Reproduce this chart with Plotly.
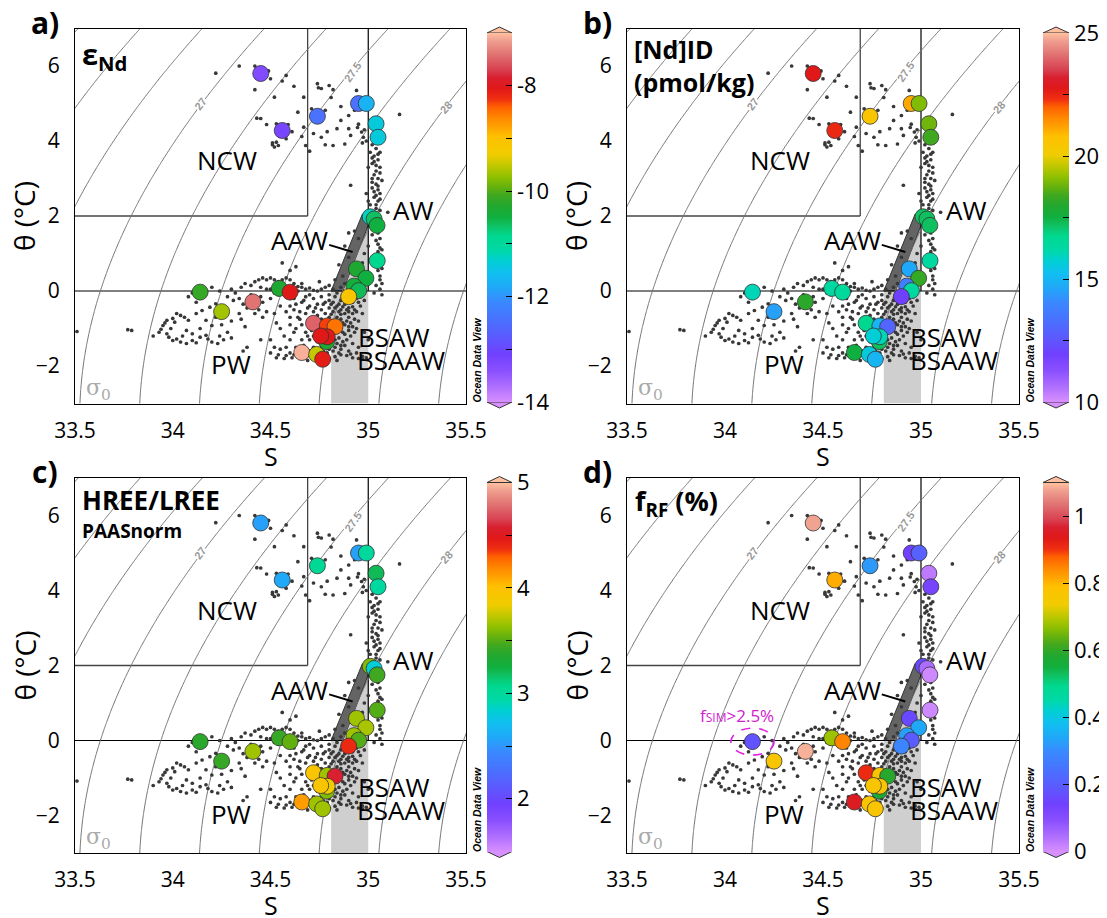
import numpy as np
import plotly.graph_objects as go

# ---------------- data ----------------
# Station samples: salinity S and potential temperature theta (deg C)
stn_S = [34.787, 34.45, 34.56, 34.74, 34.95, 34.99, 35.04, 35.05, 35.01, 35.03, 35.045,
         35.046, 34.94, 34.988, 34.927, 34.951, 34.90, 34.14, 34.25, 34.41, 34.545,
         34.60, 34.72, 34.79, 34.83, 34.79, 34.757, 34.66, 34.736, 34.767]
stn_T = [-1.35, 5.80, 4.28, 4.66, 5.00, 5.00, 4.46, 4.10, 1.98, 1.92, 1.75,
         0.81, 0.59, 0.34, 0.13, 0.01, -0.15, -0.03, -0.55, -0.29, 0.07,
         -0.03, -0.86, -0.93, -0.95, -1.22, -1.20, -1.64, -1.69, -1.82]

# Panel values (same station order)
eps_Nd = [-10.3, -13.3, -13.2, -12.45, -12.45, -11.7, -11.4, -11.4, -11.25, -10.65, -10.5,
          -10.85, -10.3, -10.5, -10.45, -10.6, -9.1, -10.15, -9.65, -7.4, -10.3,
          -8.05, -7.5, -8.3, -8.5, -8.05, -8.05, -7.07, -9.5, -8.1]
nd_conc = [17.2, 22.75, 22.45, 20.5, 21.1, 19.0, 18.85, 18.4, 17.2, 17.2, 17.2,
           16.3, 14.65, 18.25, 13.75, 16.3, 11.95, 16.0, 14.5, 18.1, 16.3,
           16.45, 16.75, 15.0, 13.0, 16.0, 15.7, 17.5, 15.55, 15.0]
hree_lree = [3.6, 2.55, 2.59, 3.04, 2.55, 3.0, 3.2, 2.97, 3.6, 2.83, 3.46,
             3.5, 3.67, 3.69, 3.67, 3.5, 4.4, 3.39, 3.43, 3.67, 3.43,
             3.53, 3.95, 3.67, 4.58, 3.85, 3.95, 4.13, 3.67, 3.67]
f_rf = [0.57, 1.08, 0.81, 0.32, 0.14, 0.21, 0.03, 0.13, 0.16, 0.05, 0.01,
        0.01, 0.16, 0.34, 0.33, 0.2, 0.29, 0.18, 0.77, 1.09, 0.68,
        0.85, 0.91, 0.77, 0.59, 0.77, 0.77, 0.95, 0.77, 0.77]
fsim_station = 17  # index of station with f_SIM > 2.5 %

# Background CTD profile points (S, theta)
ctd_ST = [
    (34.22, 5.81), (34.34, 6.0), (34.42, 6.0), (34.49, 5.87), (34.50, 5.66), (34.42, 5.37),
    (34.58, 5.75), (34.56, 5.6), (34.62, 5.46), (34.67, 5.17), (34.52, 5.17), (34.43, 4.61),
    (34.45, 4.6), (34.48, 4.44), (34.53, 4.46), (34.59, 4.44), (34.64, 4.77), (34.67, 4.37),
    (34.66, 4.12), (34.68, 3.88), (34.70, 3.73), (34.51, 3.9), (34.52, 3.84), (34.53, 3.97),
    (34.54, 3.88), (34.51, 3.95), (34.58, 4.06), (34.57, 4.3), (34.61, 4.25), (34.74, 5.53),
    (34.745, 5.42), (34.76, 5.4), (34.80, 5.48), (34.82, 5.37), (34.81, 5.16), (34.71, 4.86),
    (34.78, 4.82), (34.86, 4.92), (34.90, 4.68), (34.84, 4.33), (34.90, 4.33), (34.945, 4.36),
    (34.966, 4.24), (34.975, 4.1), (34.72, 4.2), (34.76, 4.1), (34.78, 3.9), (34.82, 3.88),
    (34.88, 3.92), (34.91, 4.15), (34.93, 4.82), (34.94, 5.35), (34.94, 5.08), (34.86, 4.55),
    (35.16, 4.71), (34.79, 4.25), (34.95, 4.45), (34.98, 4.3), (34.97, 3.95), (34.99, 4.0),
    (35.02, 3.9), (35.04, 3.8), (35.03, 3.6), (35.05, 3.5), (35.02, 3.4), (35.06, 3.3),
    (35.04, 3.2), (35.03, 3.1), (35.05, 3.0), (35.07, 2.95), (35.04, 2.85), (35.02, 2.75),
    (35.05, 2.7), (35.06, 2.6), (35.03, 2.5), (35.05, 2.4), (35.01, 2.3), (35.04, 2.2),
    (35.06, 2.15), (35.00, 2.4), (35.00, 3.3), (35.01, 3.7), (34.99, 2.6), (35.05, 1.55),
    (35.06, 1.4), (35.05, 1.25), (35.07, 1.1), (35.06, 0.95), (35.07, 0.6), (35.06, 0.4),
    (35.07, 0.2), (35.06, 0.05), (35.07, -0.1), (35.03, -0.05), (35.1, 2.1), (34.91, 2.82),
    (35.02, 1.5), (35.0, 1.2), (34.98, 1.0), (34.97, 0.75), (34.9, 1.55), (34.93, 1.6),
    (34.88, 1.2), (34.9, 0.9), (34.85, 0.7), (34.87, 0.4), (34.95, 1.4), (35.03, 3.45),
    (35.02, 3.0), (35.04, 2.55), (35.05, 3.65), (35.03, 2.05),
    (35.04, 3.95), (35.06, 3.7), (35.02, 3.55), (35.04, 3.35), (35.06, 3.15), (35.02, 2.9),
    (35.05, 2.8), (35.03, 2.65), (35.06, 2.45), (35.04, 2.3), (35.06, 1.65), (35.04, 1.35),
    (35.06, 1.15), (35.05, 1.05), (35.04, 0.7), (35.05, 0.55), (35.06, 0.3), (35.04, 0.15),
    (34.3, 0.05), (34.32, -0.05), (34.35, 0.1), (34.37, 0.2), (34.4, 0.15), (34.42, 0.25),
    (34.44, 0.3), (34.46, 0.35), (34.48, 0.3), (34.5, 0.35), (34.52, 0.3), (34.54, 0.25),
    (34.56, 0.3), (34.58, 0.35), (34.6, 0.3), (34.62, 0.2), (34.64, 0.12), (34.66, 0.1),
    (34.68, 0.05), (34.7, 0.08), (34.72, 0.02), (34.74, 0.0), (34.76, 0.05), (34.78, 0.1),
    (34.8, 0.15), (34.82, 0.05), (34.84, -0.05), (34.86, 0.1), (34.88, 0.2), (34.83, 0.3),
    (34.75, 0.25), (34.66, 0.2), (34.64, 0.0), (34.7, -0.1), (34.68, -0.15), (34.72, -0.2),
    (34.76, -0.15), (34.8, -0.1), (34.78, -0.3), (34.74, -0.35), (34.7, -0.4), (34.66, -0.3),
    (34.62, -0.2), (34.58, -0.15), (34.54, -0.1), (34.5, -0.2), (34.46, -0.3), (34.44, -0.5),
    (34.42, -0.6), (34.46, -0.7), (34.48, -0.55), (34.38, -0.45), (34.36, -0.35), (34.34, -0.2),
    (34.31, -0.25), (34.28, -0.15), (34.24, 0.0), (34.2, 0.1), (34.16, 0.05), (34.1, -0.05),
    (34.08, -0.15), (34.56, 0.75), (34.6, 0.55), (34.63, 0.65),
    (34.45, 0.1), (34.5, 0.05), (34.55, 0.0), (34.6, 0.1), (34.52, -0.05), (34.48, 0.05),
    (34.4, -0.1), (34.45, -0.15),
    (33.51, -1.08), (33.77, -1.03), (33.79, -1.05), (33.97, -0.78), (34.0, -0.73), (34.01, -0.83),
    (33.99, -1.0), (33.97, -1.14), (33.98, -1.23), (34.0, -1.32), (34.04, -1.36), (34.07, -1.4),
    (34.1, -1.32), (34.14, -1.23), (34.17, -1.18), (34.2, -1.36), (34.23, -1.4), (34.04, -0.65),
    (34.06, -0.7), (34.08, -0.78), (34.12, -0.6), (34.15, -0.52), (34.19, -0.43), (34.22, -0.34),
    (34.17, -0.78), (34.2, -0.92), (34.14, -1.0), (34.07, -1.05), (34.1, -1.14), (34.05, -1.2),
    (33.93, -1.1), (33.9, -1.2), (33.95, -0.92), (34.12, -0.3), (34.22, -0.7), (34.25, -0.9),
    (34.28, -1.1), (34.3, -0.8), (34.34, -0.6), (34.35, -0.75), (34.37, -0.95), (34.3, -1.25),
    (34.36, -1.6), (34.38, -1.5), (34.45, -1.3),
    (34.02, -0.6), (33.96, -0.85), (33.94, -1.02), (34.02, -1.28), (34.12, -1.38), (34.18, -1.28),
    (34.24, -1.2), (34.26, -1.3),
    (34.62, -0.5), (34.64, -0.7), (34.6, -0.9), (34.62, -1.1), (34.6, -1.3), (34.58, -1.5),
    (34.6, -1.65), (34.62, -1.7), (34.64, -1.75), (34.66, -1.78), (34.68, -1.72), (34.7, -1.6),
    (34.72, -1.5), (34.7, -1.3), (34.68, -1.1), (34.66, -0.9), (34.68, -0.6), (34.7, -0.75),
    (34.72, -0.55), (34.74, -0.65), (34.76, -0.5), (34.78, -0.6), (34.8, -0.45), (34.82, -0.55),
    (34.84, -0.4), (34.86, -0.5), (34.88, -0.35), (34.9, -0.45), (34.92, -0.3), (34.94, -0.2),
    (34.86, -0.25), (34.82, -0.3), (34.8, -0.7), (34.82, -0.8), (34.84, -0.7), (34.86, -0.75),
    (34.88, -0.6), (34.9, -0.7), (34.92, -0.6), (34.93, -0.5), (34.91, -0.85), (34.88, -0.9),
    (34.86, -1.0), (34.84, -1.1), (34.82, -1.2), (34.85, -1.25), (34.88, -1.15), (34.9, -1.05),
    (34.92, -0.95), (34.87, -1.35), (34.84, -1.4), (34.8, -1.45), (34.78, -1.4), (34.76, -1.5),
    (34.74, -1.35), (34.72, -1.2), (34.74, -1.05), (34.76, -0.75), (34.78, -0.8), (34.83, -0.9),
    (34.85, -0.55), (34.89, -0.5), (34.91, -0.25), (34.87, -0.15), (34.83, -0.15), (34.8, -0.25),
    (34.77, -0.35), (34.73, -0.45), (34.69, -0.45), (34.65, -0.55), (34.63, -0.35), (34.67, -0.25),
    (34.75, -1.75), (34.78, -1.75), (34.8, -1.8), (34.83, -1.75), (34.86, -1.7), (34.89, -1.72),
    (34.92, -1.78), (34.95, -1.8), (34.97, -1.74), (34.94, -1.65), (34.9, -1.6), (34.86, -1.55),
    (34.82, -1.6), (34.84, -1.85), (34.58, -1.72), (34.55, -1.55), (34.57, -1.2), (34.55, -1.0),
    (34.53, -0.85), (34.52, -0.6), (34.55, -0.4), (34.5, -1.3), (34.52, -1.5), (34.5, -1.65),
    (34.54, -1.7), (34.96, -0.4), (34.97, -0.6), (34.95, -0.8), (34.94, -1.0), (34.98, -1.1),
    (35.0, -1.3), (34.92, -1.4), (34.95, -1.5), (34.88, -1.45), (34.79, -1.05), (34.81, -0.95),
    (34.78, -1.25), (34.75, -0.95), (34.7, -0.9), (34.66, -1.3), (34.63, -1.5), (34.69, -1.85),
    (34.72, -1.8), (34.85, -0.35), (34.89, -0.8), (34.87, -1.1), (34.83, -1.3), (34.91, -1.2),
    (34.81, -0.62), (34.77, -0.95), (34.93, -0.75), (34.85, -0.9), (34.89, -0.2),
    (34.81, -0.35), (34.83, -0.45), (34.87, -0.42), (34.9, -0.55), (34.92, -0.42), (34.94, -0.55),
    (34.86, -0.62), (34.84, -0.82), (34.87, -0.85), (34.9, -0.95), (34.93, -1.1), (34.89, -1.3),
    (34.86, -1.45), (34.83, -1.5), (34.8, -1.55), (34.77, -1.6), (34.79, -1.65), (34.85, -1.65),
    (34.91, -1.68), (34.97, -1.82), (34.99, -1.78), (34.76, -1.1), (34.74, -0.8), (34.72, -0.95),
    (34.71, -1.05), (34.69, -1.2), (34.67, -1.45), (34.65, -1.65), (34.61, -1.78), (34.57, -1.8),
    (34.53, -1.78), (34.63, -1.0), (34.65, -0.75), (34.6, -0.7), (34.58, -0.55), (34.6, -0.4),
    (34.95, -0.3), (34.96, -0.15), (34.93, -0.05), (34.98, -0.25),
]
ctd_S = [p[0] for p in ctd_ST]
ctd_T = [p[1] for p in ctd_ST]

x_ticks = [33.5, 34, 34.5, 35, 35.5]
x_ticktext = ["33.5", "34", "34.5", "35", "35.5"]
y_ticks = [-2, 0, 2, 4, 6]
sigma_labels = [("27", 34.14, 5.0, -53), ("27.5", 34.92, 5.84, -55), ("28", 35.40, 4.9, -48)]

# Water-mass polygons / boxes (S, theta)
aaw_S = [34.81, 34.87, 35.0, 34.97]
aaw_T = [0.0, 0.0, 1.75, 2.05]
bsaw_S = [34.81, 34.81, 34.87, 35.0, 35.0]
bsaw_T = [-3.0, 0.0, 0.0, 1.75, -3.0]
ncw_S_edge = 34.69
ncw_T_edge = 2.0

cb_a = dict(vals=[-14, -13, -12, -11, -10, -9, -8, -7],
            text=["-14", " ", "-12", " ", "-10", " ", "-8", " "], rng=(-14, -7))
cb_b = dict(vals=[10, 12.5, 15, 17.5, 20, 22.5, 25],
            text=["10", " ", "15", " ", "20", " ", "25"], rng=(10, 25))
cb_c = dict(vals=[1.5, 2, 2.5, 3, 3.5, 4, 4.5, 5],
            text=[" ", "2", " ", "3", " ", "4", " ", "5"], rng=(1.5, 5))
cb_d = dict(vals=[0, 0.2, 0.4, 0.6, 0.8, 1.0],
            text=["0", "0.2", "0.4", "0.6", "0.8", "1"], rng=(0, 1.1))

odv_scale = [
    [0.0, "#d890ff"], [0.04, "#b070ff"], [0.085, "#8a50ff"], [0.13, "#7040ff"],
    [0.18, "#5a5cff"], [0.22, "#4a70ff"], [0.27, "#3a88ff"], [0.31, "#20a8f8"],
    [0.35, "#10c0f0"], [0.385, "#00d0d0"], [0.41, "#00d8a8"], [0.45, "#00d890"],
    [0.48, "#10c060"], [0.5, "#10b040"], [0.53, "#20a830"], [0.56, "#40a820"],
    [0.58, "#60b010"], [0.61, "#90c000"], [0.64, "#c0c800"], [0.67, "#f0cc00"],
    [0.72, "#ffc000"], [0.74, "#ffa800"], [0.77, "#ff8800"], [0.8, "#ff6000"],
    [0.82, "#f03010"], [0.85, "#e01818"], [0.88, "#d82030"], [0.9, "#d84050"],
    [0.94, "#e07070"], [0.98, "#f0a090"], [1.0, "#ffc0a0"],
]

# ---------------- layout geometry (page pixels) ----------------
PAGE_W, PAGE_H = 1107, 918
OFF = 8                       # default page margin around the plot div
W, H = PAGE_W - OFF, PAGE_H - OFF
panels = [
    dict(x0=75, x1=466, y0=28.5, y1=403.5, vals=eps_Nd, cb=cb_a, cbx=487, cbw=25, letter="a)"),
    dict(x0=627, x1=1019, y0=28.5, y1=403.5, vals=nd_conc, cb=cb_b, cbx=1043, cbw=26, letter="b)"),
    dict(x0=75, x1=466, y0=478, y1=853, vals=hree_lree, cb=cb_c, cbx=487, cbw=25, letter="c)"),
    dict(x0=627, x1=1019, y0=478, y1=853, vals=f_rf, cb=cb_d, cbx=1043, cbw=26, letter="d)"),
]

def px(x):
    return (x - OFF) / W

def py(y):
    return 1 - (y - OFF) / H

# density field sigma0 (UNESCO EOS-80 at p = 0)
def sigma0(S, T):
    rw = (999.842594 + 6.793952e-2 * T - 9.095290e-3 * T**2 + 1.001685e-4 * T**3
          - 1.120083e-6 * T**4 + 6.536332e-9 * T**5)
    A = 8.24493e-1 - 4.0899e-3 * T + 7.6438e-5 * T**2 - 8.2467e-7 * T**3 + 5.3875e-9 * T**4
    B = -5.72466e-3 + 1.0227e-4 * T - 1.6546e-6 * T**2
    C = 4.8314e-4
    return rw + A * S + B * S**1.5 + C * S**2 - 1000.0

gS = np.linspace(33.4, 35.6, 221)
gT = np.linspace(-3.2, 7.2, 209)
SS, TT = np.meshgrid(gS, gT)
sig = sigma0(SS, TT)

fig = go.Figure()
shapes = []
annotations = []
FONT = "Open Sans"

def paper_text(text, x, y, size, angle=0, family=FONT, color="black"):
    return dict(text=text, x=px(x), y=py(y), xref="paper", yref="paper", showarrow=False,
                xanchor="center", yanchor="middle", textangle=angle,
                font=dict(size=size, color=color, family=family))

for i, p in enumerate(panels):
    k = "" if i == 0 else str(i + 1)
    xa, ya = "x" + k, "y" + k
    # density contours
    fig.add_trace(go.Contour(
        x=gS, y=gT, z=sig, xaxis=xa, yaxis=ya,
        contours=dict(start=26.25, end=28.75, size=0.25, coloring="lines", showlabels=False),
        colorscale=[[0, "#737373"], [1, "#737373"]], showscale=False,
        line=dict(width=1.0), hoverinfo="skip"))
    # CTD points
    fig.add_trace(go.Scatter(
        x=ctd_S, y=ctd_T, xaxis=xa, yaxis=ya, mode="markers",
        marker=dict(size=3.7, color="#383838"), hoverinfo="skip", showlegend=False))
    # stations
    cb = p["cb"]
    cb_top = p["y0"] + 4.5
    cb_bot = p["y1"] - 1.5
    fig.add_trace(go.Scatter(
        x=stn_S, y=stn_T, xaxis=xa, yaxis=ya, mode="markers", showlegend=False,
        marker=dict(size=16, color=p["vals"], colorscale=odv_scale,
                    cmin=cb["rng"][0], cmax=cb["rng"][1],
                    line=dict(width=0.8, color="#333333"),
                    colorbar=dict(x=px(p["cbx"]), xanchor="left", y=py(cb_top), yanchor="top",
                                  len=cb_bot - cb_top, lenmode="pixels",
                                  thickness=p["cbw"], thicknessmode="pixels",
                                  tickvals=cb["vals"], ticktext=cb["text"],
                                  ticks="inside", ticklen=6, tickcolor="black", tickwidth=1.2,
                                  outlinewidth=0, xpad=0, ypad=0,
                                  tickfont=dict(size=22, color="black", family=FONT))),
        hoverinfo="skip"))

    # shapes in data coordinates
    path_bsaw = "M " + " L ".join(f"{s},{t}" for s, t in zip(bsaw_S, bsaw_T)) + " Z"
    path_aaw = "M " + " L ".join(f"{s},{t}" for s, t in zip(aaw_S, aaw_T)) + " Z"
    shapes.append(dict(type="path", path=path_bsaw, xref=xa, yref=ya, layer="below",
                       fillcolor="#cfcfcf", line=dict(width=0)))
    shapes.append(dict(type="path", path=path_aaw, xref=xa, yref=ya, layer="below",
                       fillcolor="#646464", line=dict(width=1, color="#333333")))
    shapes.append(dict(type="line", xref=xa, yref=ya, x0=33.5, x1=35.5, y0=0, y1=0,
                       layer="below", line=dict(color="black", width=1.2)))
    shapes.append(dict(type="line", xref=xa, yref=ya, x0=35.0, x1=35.0, y0=0, y1=7,
                       layer="below", line=dict(color="black", width=1.2)))
    shapes.append(dict(type="line", xref=xa, yref=ya, x0=33.5, x1=ncw_S_edge, y0=ncw_T_edge,
                       y1=ncw_T_edge, layer="below", line=dict(color="#444444", width=1.3)))
    shapes.append(dict(type="line", xref=xa, yref=ya, x0=ncw_S_edge, x1=ncw_S_edge,
                       y0=ncw_T_edge, y1=7, layer="below", line=dict(color="#444444", width=1.3)))
    # AAW leader line
    shapes.append(dict(type="line", xref=xa, yref=ya, x0=34.80, x1=34.92, y0=1.23, y1=1.04,
                       line=dict(color="black", width=2)))
    # colorbar end arrows
    xl, xr = px(p["cbx"]), px(p["cbx"] + p["cbw"])
    xm = px(p["cbx"] + p["cbw"] / 2)
    shapes.append(dict(type="path", xref="paper", yref="paper",
                       path=f"M {xl},{py(cb_top)} L {xm},{py(cb_top - 6)} L {xr},{py(cb_top)} Z",
                       fillcolor="#ffc0a0", line=dict(color="#333333", width=1)))
    shapes.append(dict(type="path", xref="paper", yref="paper",
                       path=f"M {xl},{py(cb_bot)} L {xm},{py(cb_bot + 6)} L {xr},{py(cb_bot)} Z",
                       fillcolor="#d890ff", line=dict(color="#333333", width=1)))

    # water mass labels
    for txt, s, t in [("NCW", 34.28, 3.49), ("AW", 35.23, 2.16), ("AAW", 34.65, 1.36),
                      ("PW", 34.30, -1.95), ("BSAW", 35.13, -1.23), ("BSAAW", 35.17, -1.84)]:
        annotations.append(dict(text=txt, x=s, y=t, xref=xa, yref=ya, showarrow=False,
                                xanchor="center", yanchor="middle",
                                font=dict(size=26, color="black", family=FONT)))
    for txt, s, t, ang in sigma_labels:
        annotations.append(dict(text=f"<b>{txt}</b>", x=s, y=t, xref=xa, yref=ya, showarrow=False,
                                textangle=ang, bgcolor="white", borderpad=0,
                                xanchor="center", yanchor="middle",
                                font=dict(size=11, color="#9a9a9a", family="Liberation Sans")))
    annotations.append(dict(text="σ<sub>0</sub>", x=33.62, y=-2.62, xref=xa, yref=ya,
                            showarrow=False, xanchor="center", yanchor="middle",
                            font=dict(size=22, color="#aaaaaa", family="DejaVu Serif")))
    # panel letter, axis titles, credit
    annotations.append(paper_text(f"<b>{p['letter']}</b>", p["x0"] - 30, p["y0"] - 6, 30))
    annotations.append(paper_text("θ (°C)", p["x0"] - 51, (p["y0"] + p["y1"]) / 2, 28, angle=-90))
    annotations.append(paper_text("S", (p["x0"] + p["x1"]) / 2, p["y1"] + 52, 25))
    annotations.append(paper_text("<b><i>Ocean Data View</i></b>", p["x1"] + 11, p["y1"] - 43,
                                  10.5, angle=-90, family="Liberation Sans"))

    fig.layout["xaxis" + k] = dict(
        domain=[px(p["x0"]), px(p["x1"])], range=[33.5, 35.5], anchor=ya,
        tickvals=x_ticks, ticktext=x_ticktext, showgrid=False, zeroline=False,
        showline=True, linecolor="black", linewidth=1.2, mirror=True, ticks="",
        automargin=False,
        ticklabelstandoff=8, tickfont=dict(size=21, color="black", family=FONT))
    fig.layout["yaxis" + k] = dict(
        domain=[py(p["y1"]), py(p["y0"])], range=[-3, 7], anchor=xa,
        tickvals=y_ticks, showgrid=False, zeroline=False,
        showline=True, linecolor="black", linewidth=1.2, mirror=True, ticks="",
        automargin=False,
        ticklabelstandoff=10, tickfont=dict(size=21, color="black", family=FONT))

# panel-specific titles
annotations += [
    dict(text="<b>ε<sub>Nd</sub></b>", x=0.012, y=0.99, xref="x domain", yref="y domain",
         xanchor="left", yanchor="top", showarrow=False,
         font=dict(size=29, color="black", family=FONT)),
    dict(text="<b>[Nd]ID<br>(pmol/kg)</b>", x=0.012, y=0.995, xref="x2 domain", yref="y2 domain",
         xanchor="left", yanchor="top", align="left", showarrow=False,
         font=dict(size=25, color="black", family=FONT)),
    dict(text="<b>HREE/LREE</b>", x=0.012, y=0.995, xref="x3 domain", yref="y3 domain",
         xanchor="left", yanchor="top", showarrow=False,
         font=dict(size=26, color="black", family=FONT)),
    dict(text="<b>PAASnorm</b>", x=0.012, y=0.90, xref="x3 domain", yref="y3 domain",
         xanchor="left", yanchor="top", showarrow=False,
         font=dict(size=19, color="black", family=FONT)),
    dict(text="<b>f<sub>RF</sub> (%)</b>", x=0.015, y=0.995, xref="x4 domain", yref="y4 domain",
         xanchor="left", yanchor="top", showarrow=False,
         font=dict(size=27, color="black", family=FONT)),
    dict(text="f<span style='font-size:12px'>SIM</span>>2.5%", x=34.06, y=0.68,
         xref="x4", yref="y4", showarrow=False, xanchor="center", yanchor="middle",
         font=dict(size=17, color="#d020d0", family=FONT)),
]
fs, ft = stn_S[fsim_station], stn_T[fsim_station]
shapes.append(dict(type="circle", xref="x4", yref="y4", x0=fs - 0.11, x1=fs + 0.11,
                   y0=ft - 0.36, y1=ft + 0.36,
                   line=dict(color="#e020e0", width=1.6, dash="dash")))

fig.update_layout(width=W, height=H, margin=dict(l=0, r=0, t=0, b=0, autoexpand=False),
                  paper_bgcolor="white", plot_bgcolor="white", showlegend=False,
                  font=dict(family=FONT, color="black"),
                  shapes=shapes, annotations=annotations)

fig.write_html("out.html")
